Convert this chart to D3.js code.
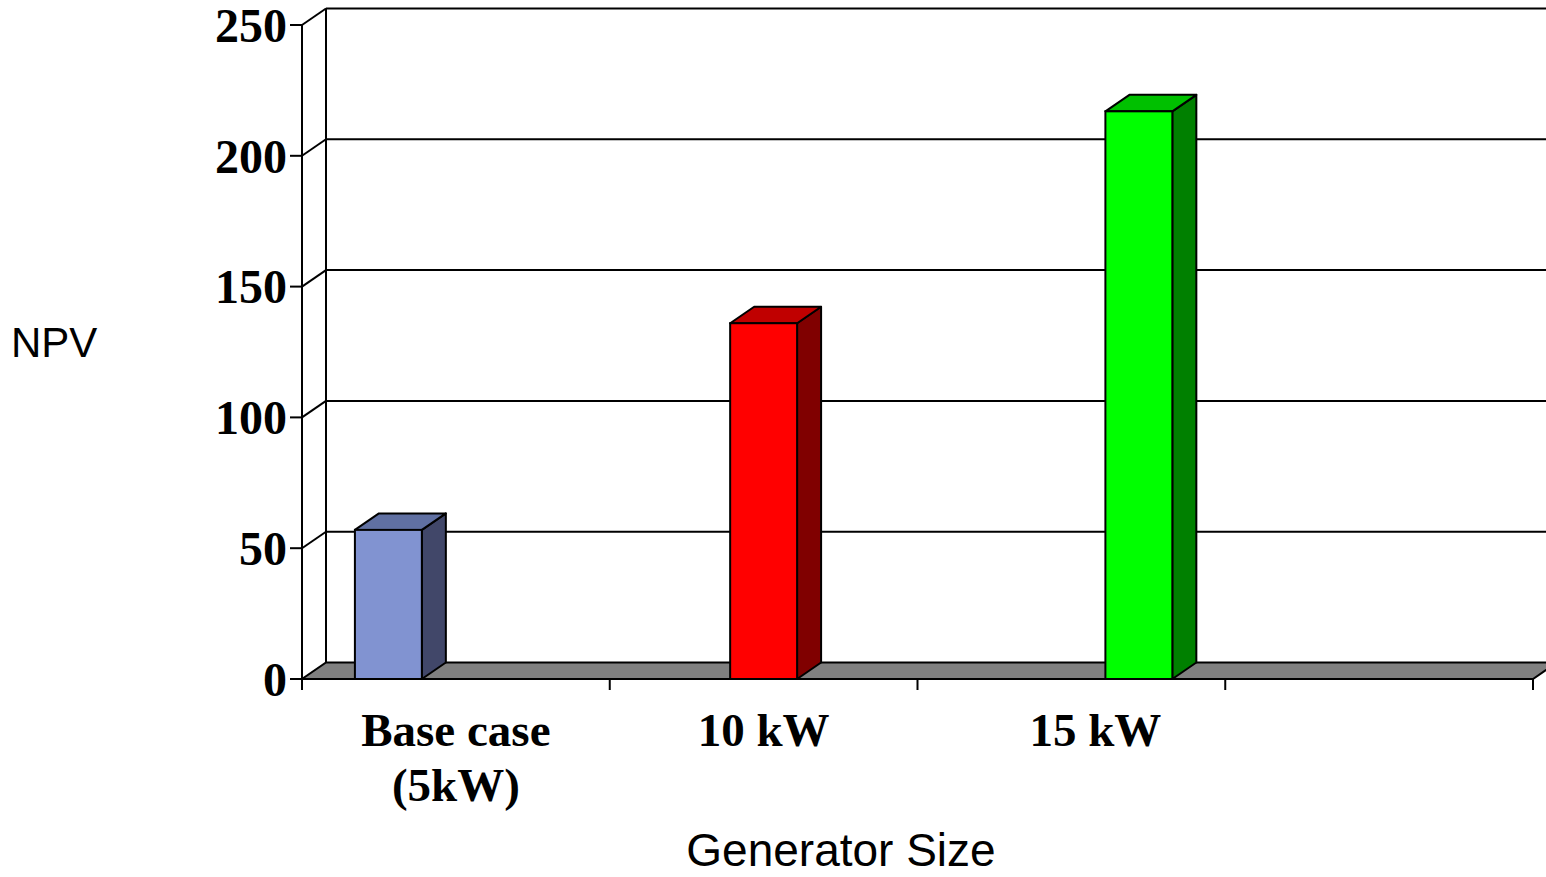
<!DOCTYPE html>
<html>
<head>
<meta charset="utf-8">
<script src="https://cdn.jsdelivr.net/npm/d3@7"></script>
<style>
  html, body { margin: 0; padding: 0; background: #fff; }
  svg { display: block; }
</style>
</head>
<body>
<svg id="chart" width="1546" height="877"></svg>
<script>
// NPV by generator size
const categories = ["Base case (5kW)", "10 kW", "15 kW"];
const npvValues = [57, 136, 217];
const yTicks = [0, 50, 100, 150, 200, 250];
const axisSlots = ["Base case (5kW)", "10 kW", "15 kW", ""];
const frontColors = ["#8193D1", "#FF0000", "#00FF00"];
const topColors = ["#6070A2", "#C00000", "#00C000"];
const sideColors = ["#414769", "#800000", "#008000"];

const svg = d3.select("#chart");

// plot frame (front plane) and 3-D depth offset
const plotLeft = 302, plotRight = 1533, plotBottom = 679, plotTop = 25;
const depthX = 24, depthY = -16.5;

const y = d3.scaleLinear().domain([0, 250]).range([plotBottom, plotTop]);
const slots = d3.scaleBand().domain(axisSlots).range([plotLeft, plotRight]);
const xBar = d3.scaleBand().domain(categories).range([plotLeft, slots("")])
  .paddingInner(0.8216).paddingOuter(0.141);

const line = (g, x1, y1, x2, y2, w = 2) =>
  g.append("line").attr("x1", x1).attr("y1", y1).attr("x2", x2).attr("y2", y2)
    .attr("stroke", "#000").attr("stroke-width", w);

// back wall gridlines
const wall = svg.append("g");
yTicks.filter(t => t > 0).forEach(t => {
  line(wall, plotLeft + depthX, y(t) + depthY, plotRight + depthX, y(t) + depthY);
  line(wall, plotLeft, y(t), plotLeft + depthX, y(t) + depthY);
});
line(wall, plotLeft + depthX, y(250) + depthY, plotLeft + depthX, y(0) + depthY);

// floor
svg.append("path")
  .attr("d", d3.line()([
    [plotLeft, y(0)], [plotRight, y(0)], [plotRight + depthX, y(0) + depthY],
    [plotLeft + depthX, y(0) + depthY]
  ]) + "Z")
  .attr("fill", "#808080").attr("stroke", "#000").attr("stroke-width", 2)
  .attr("stroke-linejoin", "miter");

// front value axis with ticks
const yAxisG = svg.append("g");
line(yAxisG, plotLeft, y(250), plotLeft, plotBottom + 11);
yTicks.forEach(t => line(yAxisG, plotLeft - 12, y(t), plotLeft, y(t)));
yAxisG.selectAll("text").data(yTicks).join("text")
  .attr("x", plotLeft - 15).attr("y", d => y(d)).attr("dy", "0.35em")
  .attr("text-anchor", "end")
  .attr("font-family", "'Liberation Serif', 'Times New Roman', serif")
  .attr("font-weight", "bold").attr("font-size", 48)
  .text(d => d);

// category tick marks along the floor front edge
const xAxisG = svg.append("g");
const slotEdges = axisSlots.map(s => slots(s)).concat([plotRight]);
slotEdges.forEach(xv => line(xAxisG, xv, plotBottom, xv, plotBottom + 11));

// bars (front, top, side faces)
const bw = xBar.bandwidth();
const bars = svg.append("g").selectAll("g").data(categories).join("g");
bars.each(function (c, i) {
  const g = d3.select(this);
  const x0 = xBar(c), yt = y(npvValues[i]), yb = y(0);
  g.append("path")
    .attr("d", d3.line()([[x0 + bw, yt], [x0 + bw + depthX, yt + depthY],
      [x0 + bw + depthX, yb + depthY], [x0 + bw, yb]]) + "Z")
    .attr("fill", sideColors[i]).attr("stroke", "#000").attr("stroke-width", 2)
    .attr("stroke-linejoin", "round");
  g.append("path")
    .attr("d", d3.line()([[x0, yt], [x0 + depthX, yt + depthY],
      [x0 + bw + depthX, yt + depthY], [x0 + bw, yt]]) + "Z")
    .attr("fill", topColors[i]).attr("stroke", "#000").attr("stroke-width", 2)
    .attr("stroke-linejoin", "round");
  g.append("rect")
    .attr("x", x0).attr("y", yt).attr("width", bw).attr("height", yb - yt)
    .attr("fill", frontColors[i]).attr("stroke", "#000").attr("stroke-width", 2);
});

// category labels
const labelNudge = [0, 0, 24];
const labelLines = [["Base case", "(5kW)"], ["10 kW"], ["15 kW"]];
categories.forEach((c, i) => {
  const cx = slots(c) + slots.bandwidth() / 2 + labelNudge[i];
  const t = svg.append("text")
    .attr("x", cx).attr("y", 746)
    .attr("text-anchor", "middle")
    .attr("font-family", "'Liberation Serif', 'Times New Roman', serif")
    .attr("font-weight", "bold").attr("font-size", 47);
  labelLines[i].forEach((s, k) => {
    t.append("tspan").attr("x", cx).attr("dy", k === 0 ? 0 : 55).text(s);
  });
});

// axis titles
svg.append("text").attr("x", 11).attr("y", 357)
  .attr("font-family", "'Liberation Sans', Arial, sans-serif").attr("font-size", 42)
  .text("NPV");
svg.append("text").attr("x", 841).attr("y", 866).attr("text-anchor", "middle")
  .attr("font-family", "'Liberation Sans', Arial, sans-serif").attr("font-size", 46)
  .text("Generator Size");
</script>
</body>
</html>
